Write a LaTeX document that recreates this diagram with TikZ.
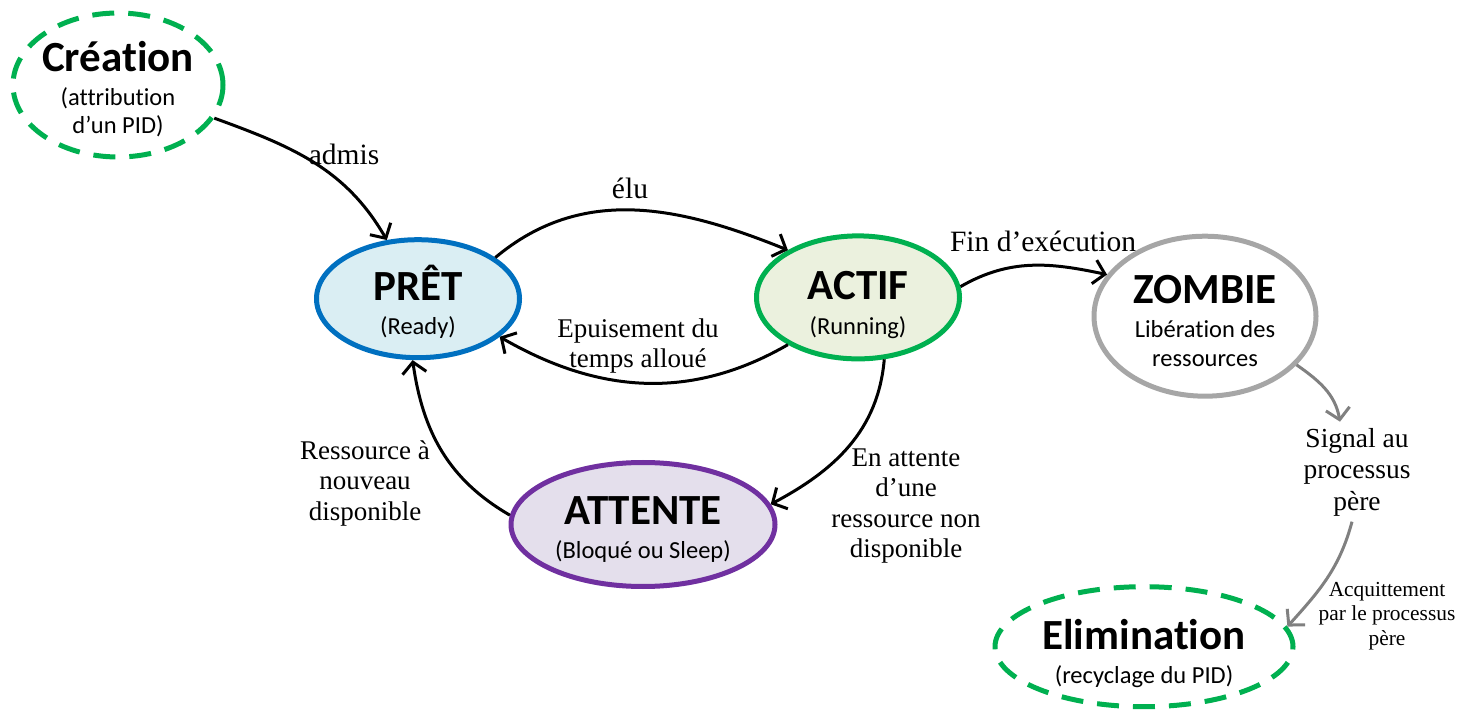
\documentclass[tikz,border=0pt]{standalone}
\usepackage{fontspec}
\setmainfont{Liberation Serif}
\newfontfamily\calibri[Ligatures={NoCommon}]{Carlito}
\usetikzlibrary{arrows.meta,shapes.geometric}
\definecolor{cgreen}{HTML}{00B050}
\definecolor{cblue}{HTML}{0070C0}
\definecolor{fblue}{HTML}{DAEEF3}
\definecolor{fgreen}{HTML}{EBF1DE}
\definecolor{cpurple}{HTML}{7030A0}
\definecolor{fpurple}{HTML}{E4DFEC}
\definecolor{czombie}{HTML}{A6A6A6}
\definecolor{carrgray}{HTML}{808080}
\newcommand\sttitle[2]{\rule{0pt}{#1}\smash{\bfseries\fontsize{43}{44}\selectfont #2}}
\begin{document}
\begin{tikzpicture}[x=1pt,y=1pt,
  state/.style={ellipse, draw, line width=5pt, inner sep=0pt, align=center,
    font=\calibri\fontsize{24.5}{28}\selectfont},
  dstate/.style={state, draw=cgreen, dash pattern=on 22pt off 14pt},
  arr/.style={line width=3pt, -{Straight Barb[length=11pt,width=24pt]}},
  garr/.style={arr, draw=carrgray},
  lbl/.style={font=\fontsize{27}{30.5}\selectfont, align=center, inner sep=0pt},
  blbl/.style={font=\fontsize{29.5}{32}\selectfont, align=center, inner sep=0pt},
  slbl/.style={font=\fontsize{21.4}{24.5}\selectfont, align=center, inner sep=0pt}
]
\useasboundingbox (0,0) rectangle (1467,710);

\node[dstate, minimum width=210, minimum height=144, inner xsep=-3pt,
  font=\calibri\fontsize{24.5}{27.3}\selectfont] (creation) at (118,625)
  {\sttitle{35pt}{Création}\\[7pt](attribution\\\smash{d’un PID)}};
\node[state, draw=cblue, fill=fblue, minimum width=203, minimum height=118] (pret) at (418,411.3)
  {\sttitle{37.9pt}{PRÊT}\\[5.3pt]\smash{(Ready)}};
\node[state, draw=cgreen, fill=fgreen, minimum width=203, minimum height=123] (actif) at (858,412.6)
  {\sttitle{40.2pt}{ACTIF}\\[7pt]\smash{(Running)}};
\node[state, draw=czombie, minimum width=222, minimum height=160,
  font=\calibri\fontsize{24.5}{29.4}\selectfont] (zombie) at (1205,393.8)
  {\sttitle{38.3pt}{ZOMBIE}\\[3.9pt]Libération des\\\smash{ressources}};
\node[state, draw=cpurple, fill=fpurple, minimum width=264, minimum height=124] (attente) at (643,185.5)
  {\sttitle{33.3pt}{ATTENTE}\\[6.3pt]\smash{(Bloqué ou Sleep)}};
\node[dstate, minimum width=298, minimum height=120] (elim) at (1144,63.3)
  {\sttitle{38.9pt}{Elimination}\\[6.3pt]\smash{(recyclage du PID)}};

\node[blbl] (ladmis) at (344,556) {admis};
\node[blbl] (lelu) at (630,522) {élu};
\node[blbl] (lfin) at (1043,469) {Fin d’exécution};
\node[lbl] (lepuis) at (638,364) {Epuisement du\\temps alloué};
\node[lbl] (lress) at (365,227) {Ressource à\\nouveau\\disponible};
\node[lbl] (latt) at (906,204) {En attente\\d’une\\ressource non\\disponible};
\node[lbl, font=\fontsize{27.5}{31.5}\selectfont] (lsig) at (1357,238) {Signal au\\processus\\père};
\node[slbl] (lacq) at (1387,94) {Acquittement\\par le processus\\père};

\coordinate (sigin) at (1340,288.3);
\coordinate (sigout) at (1352,188.3);

\draw[arr] (creation.-19) to[out=-20,in=120] (pret.118);
\draw[arr] (pret.28) to[out=40,in=158] (actif.146);
\draw[arr] (actif.214) to[out=-150,in=-30] (pret.-25.5);
\draw[arr] (actif.6) to[out=30,in=168] (zombie.157.5);
\draw[arr] (attente.176.6) to[out=150,in=-82] (pret.-95);
\draw[arr] (actif.-67) to[out=-95,in=28] (attente.9.7);
\draw[garr] (zombie.-28) to[out=-35,in=100] (sigin);
\draw[garr] (sigout) to[out=-105,in=48] (elim.8.9);
\end{tikzpicture}
\end{document}
